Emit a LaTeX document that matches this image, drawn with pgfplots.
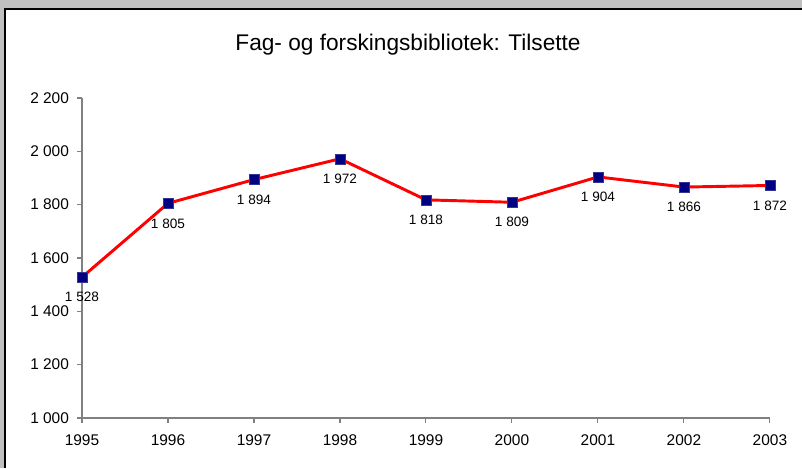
\documentclass[border=0pt]{standalone}
\usepackage{pgfplots}
\pgfplotsset{compat=1.18}
\usepackage{fontspec}
\setmainfont{Liberation Sans}
\definecolor{bggray}{RGB}{192,192,192}
\definecolor{axgray}{RGB}{128,128,128}
\definecolor{navy}{RGB}{0,0,128}
\begin{document}
\begin{tikzpicture}
\useasboundingbox (0pt,0pt) rectangle (601.5pt,351pt);
\fill[bggray] (0pt,0pt) rectangle (601.5pt,351pt);
\fill[white] (3.75pt,0pt) rectangle (601.5pt,344.25pt);
\draw[black, line width=1pt] (3.75pt,0pt) -- (3.75pt,344.25pt) -- (601.5pt,344.25pt);
\node[font=\fontsize{17}{20}\selectfont] at (306pt,317.25pt) {Fag- og forskingsbibliotek: Tilsette};
\begin{axis}[
  at={(61.5pt,37.5pt)}, anchor=south west,
  scale only axis, width=516pt, height=240pt,
  xmin=1995, xmax=2003, ymin=1000, ymax=2200,
  clip=false,
  axis x line*=bottom, axis y line*=left,
  x axis line style={-}, y axis line style={-},
  axis line style={axgray, line width=1pt},
  tick style={axgray, line width=0.8pt},
  tick align=outside, major tick length=3.75pt,
  xtick={1995,...,2003}, ytick={1000,1200,...,2200},
  /pgf/number format/assume math mode=true,
  /pgf/number format/1000 sep={\ },
  xticklabel style={/pgf/number format/1000 sep={}, yshift=-5.6pt},
  yticklabel style={xshift=-2.5pt},
  ticklabel style={font=\fontsize{11.6}{13}\selectfont},
  nodes near coords,
  every node near coord/.append style={anchor=center, yshift=-15pt, font=\fontsize{10.2}{12}\selectfont, text=black},
]
\addplot[red, line width=2.2pt, mark=square*, mark size=3.75pt,
  mark options={fill=navy, draw=navy!80!white, line width=0.4pt}]
  coordinates {(1995,1528) (1996,1805) (1997,1894) (1998,1972) (1999,1818)
               (2000,1809) (2001,1904) (2002,1866) (2003,1872)};
\end{axis}
\end{tikzpicture}
\end{document}
